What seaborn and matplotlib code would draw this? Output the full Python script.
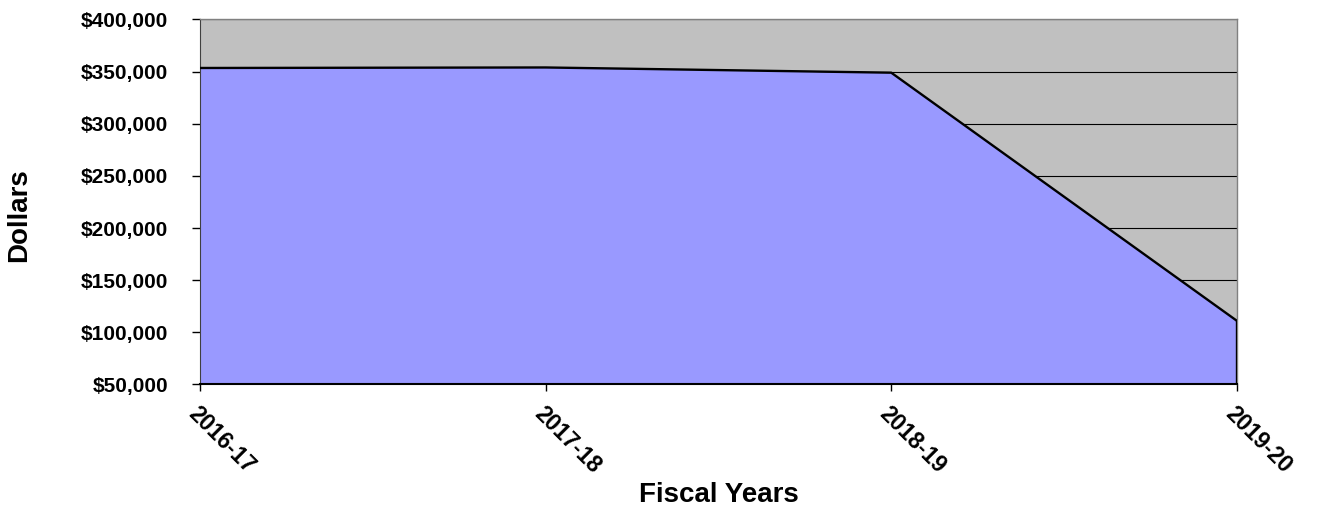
import seaborn as sns
import numpy as np
import matplotlib.pyplot as plt
import pandas as pd
from matplotlib.ticker import FuncFormatter

# data
years = ['2016-17', '2017-18', '2018-19', '2019-20']
dollars = [353500, 354000, 349000, 111000]

df = pd.DataFrame({'year': years, 'dollars': dollars, 'pos': range(len(years))})

sns.set_style('white', {'axes.facecolor': '#C0C0C0'})
plt.rcParams['font.family'] = ['Liberation Sans', 'DejaVu Sans']
plt.rcParams['font.weight'] = 'bold'
plt.rcParams['text.color'] = 'black'
plt.rcParams['axes.labelcolor'] = 'black'
plt.rcParams['xtick.color'] = 'black'
plt.rcParams['ytick.color'] = 'black'

fig, ax = plt.subplots(figsize=(13.23, 5.13), dpi=100)
fig.subplots_adjust(left=0.151, right=0.935, top=0.962, bottom=0.2505)

# grid lines behind the area
for v in range(100000, 400001, 50000):
    ax.axhline(v, color='black', lw=0.8, zorder=1)

ax.fill_between(df['pos'], 50000, df['dollars'], color='#9999FF', zorder=2, lw=0)
sns.lineplot(data=df, x='pos', y='dollars', color='black', lw=1.7, ax=ax, zorder=3)
ax.plot([df['pos'].iloc[-1]] * 2, [50000, df['dollars'].iloc[-1]], color='black', lw=1.7, zorder=3)

ax.set_xlim(0, len(years) - 1)
ax.set_ylim(50000, 400000)
ax.set_yticks(range(50000, 400001, 50000))
ax.yaxis.set_major_formatter(FuncFormatter(lambda v, p: '${:,.0f}'.format(v)))
ax.set_xticks(df['pos'])
ax.set_xticklabels(years, rotation=-45, ha='left', va='top', rotation_mode='anchor')

ax.tick_params(axis='both', width=1, color='black', direction='out',
               left=True, bottom=True)
ax.tick_params(axis='y', length=6, pad=17, labelsize=15)
ax.tick_params(axis='x', length=5, pad=8, labelsize=16.5)
for lab in ax.get_xticklabels() + ax.get_yticklabels():
    lab.set_fontweight('bold')

for side in ['top', 'right']:
    ax.spines[side].set_color('#808080')
    ax.spines[side].set_linewidth(1)
ax.spines['left'].set_color('#404040')
ax.spines['bottom'].set_color('black')
ax.spines['bottom'].set_linewidth(1.5)

ax.set_xlabel('Fiscal Years', fontsize=20, fontweight='bold', va='top')
ax.xaxis.set_label_coords(0.5, -0.267)
ax.set_ylabel('Dollars', fontsize=20, fontweight='bold')
ax.yaxis.set_label_coords(-0.162, 0.464)

plt.savefig('out.png', dpi=100)
